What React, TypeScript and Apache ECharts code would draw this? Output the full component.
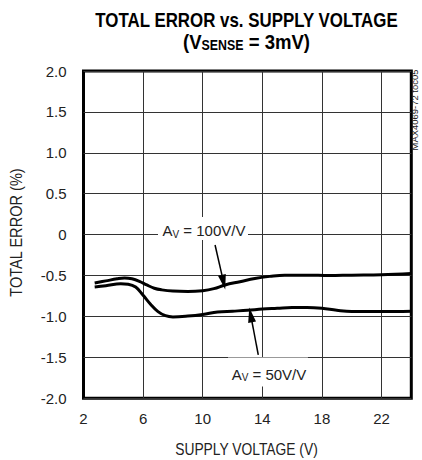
import React, { useEffect, useRef } from 'react';
import * as echarts from 'echarts';

// ---- data ----
const supplyV100 = [2.75, 3.5, 4.25, 4.75, 5.25, 5.75, 6.25, 6.75, 7.25, 8.0, 9.0, 10.0, 10.75, 11.5, 12.5, 13.5, 14.5, 15.5, 17.0, 18.5, 20.0, 22.0, 24.0];
const error100 = [-0.59, -0.565, -0.54, -0.53, -0.54, -0.57, -0.615, -0.655, -0.675, -0.69, -0.695, -0.685, -0.66, -0.615, -0.575, -0.535, -0.51, -0.495, -0.495, -0.5, -0.495, -0.49, -0.475];

const supplyV50 = [2.75, 3.5, 4.5, 5.0, 5.5, 6.0, 6.5, 7.0, 7.5, 8.0, 9.0, 10.0, 11.0, 12.0, 13.0, 14.0, 15.0, 16.0, 17.0, 18.0, 19.0, 20.0, 21.0, 22.0, 24.0];
const error50 = [-0.64, -0.625, -0.6, -0.605, -0.64, -0.74, -0.85, -0.94, -0.99, -1.005, -0.995, -0.975, -0.945, -0.935, -0.925, -0.91, -0.9, -0.89, -0.89, -0.9, -0.925, -0.94, -0.94, -0.94, -0.935];

const xTickValues = [2, 6, 10, 14, 18, 22];
const yTickValues = [-2, -1.5, -1, -0.5, 0, 0.5, 1, 1.5, 2];
const yTickLabels = ['-2.0', '-1.5', '-1.0', '-0.5', '0', '0.5', '1.0', '1.5', '2.0'];

const titleLine1 = 'TOTAL ERROR vs. SUPPLY VOLTAGE';
const titleLine2 = ['(V', 'SENSE', ' = 3mV)'];
const xAxisName = 'SUPPLY VOLTAGE (V)';
const yAxisName = 'TOTAL ERROR (%)';
const noteText = 'MAX4069-72 toc05';

// annotation anchors in data coordinates
const ann100 = { box: [10.02, 0.074], tail: [10.83, -0.127], tip: [11.4, -0.58] };
const ann50 = { box: [14.38, -1.68], tail: [13.73, -1.468], tip: [13.22, -0.98] };

const FONT = "'Liberation Sans', Arial, sans-serif";
const TXT = '#222';

function measure(text: string, font: string): number {
  const c = document.createElement('canvas');
  const ctx = c.getContext('2d');
  if (!ctx) return text.length * 10;
  ctx.font = font;
  return ctx.measureText(text).width;
}

export default function App() {
  const ref = useRef<HTMLDivElement>(null);
  useEffect(() => {
    if (!ref.current) return;
    const chart = echarts.init(ref.current, undefined, { renderer: 'svg' });

    const t1Font = `bold 21px 'Liberation Sans'`;
    const t1Scale = 303 / measure(titleLine1, t1Font);
    const t2Width =
      measure(titleLine2[0], t1Font) +
      measure(titleLine2[1], `bold 14px 'Liberation Sans'`) +
      measure(titleLine2[2], t1Font);
    const t2Scale = 127 / t2Width;
    const xnScale = 143 / measure(xAxisName, `16px 'Liberation Sans'`);
    const ynScale = 129 / measure(yAxisName, `16px 'Liberation Sans'`);
    const noteScale = 81 / measure(noteText, `9px 'Liberation Sans'`);

    const labelRich = {
      sub: { fontSize: 10, fontFamily: FONT, color: TXT, padding: [7, 0, 0, 0] },
    };
    const option: any = {
      animation: false,
      backgroundColor: '#fff',
      grid: {
        left: 83.5,
        right: 10.7,
        top: 71,
        bottom: 61.7,
        show: true,
        borderColor: '#000',
        borderWidth: 3,
        backgroundColor: 'transparent',
      },
      graphic: [
        {
          type: 'text',
          x: 246.5,
          y: 20,
          scaleX: t1Scale,
          z: 10,
          style: {
            text: titleLine1,
            align: 'center',
            verticalAlign: 'middle',
            fontFamily: FONT,
            fontWeight: 'bold',
            fontSize: 21,
            fill: '#000',
          },
        },
        {
          type: 'text',
          x: 246.5,
          y: 42,
          scaleX: t2Scale,
          z: 10,
          style: {
            text: `{m|${titleLine2[0]}}{s|${titleLine2[1]}}{m|${titleLine2[2]}}`,
            align: 'center',
            verticalAlign: 'middle',
            rich: {
              m: { fontFamily: FONT, fontWeight: 'bold', fontSize: 21, fill: '#000', color: '#000' },
              s: { fontFamily: FONT, fontWeight: 'bold', fontSize: 14, fill: '#000', color: '#000', padding: [6, 0, 0, 0] },
            },
          },
        },
        {
          type: 'text',
          x: 246.5,
          y: 449,
          scaleX: xnScale,
          style: {
            text: xAxisName,
            align: 'center',
            verticalAlign: 'middle',
            fontFamily: FONT,
            fontSize: 16,
            fill: TXT,
          },
        },
        {
          type: 'text',
          x: 16.5,
          y: 232.5,
          rotation: Math.PI / 2,
          scaleX: ynScale,
          style: {
            text: yAxisName,
            align: 'center',
            verticalAlign: 'middle',
            fontFamily: FONT,
            fontSize: 16,
            fill: TXT,
          },
        },
        {
          type: 'text',
          x: 415.5,
          y: 110,
          rotation: Math.PI / 2,
          scaleX: noteScale,
          z: 10,
          style: {
            text: noteText,
            align: 'center',
            verticalAlign: 'middle',
            fontFamily: FONT,
            fontSize: 9,
            fill: TXT,
          },
        },
      ],
      xAxis: {
        type: 'value',
        min: 2,
        max: 24,
        interval: 2,
        axisLine: { show: false },
        axisTick: { show: false },
        splitLine: { show: false },
        axisLabel: {
          margin: 13,
          fontFamily: FONT,
          fontSize: 15,
          color: TXT,
          showMaxLabel: false,
          formatter: (v: number) => (xTickValues.includes(v) ? String(v) : ''),
        },
      },
      yAxis: {
        type: 'value',
        min: -2,
        max: 2,
        interval: 0.5,
        axisLine: { show: false },
        axisTick: { show: false },
        splitLine: { show: true, lineStyle: { color: '#333', width: 1 } },
        axisLabel: {
          margin: 17,
          fontFamily: FONT,
          fontSize: 15,
          color: TXT,
          formatter: (v: number) => {
            const i = yTickValues.findIndex((t) => Math.abs(t - v) < 1e-9);
            return i >= 0 ? yTickLabels[i] : '';
          },
        },
      },
      series: [
        {
          name: 'AV = 100V/V',
          type: 'line',
          smooth: 0.4,
          symbol: 'none',
          lineStyle: { color: '#000', width: 3 },
          data: supplyV100.map((x, i) => [x, error100[i]]),
          z: 3,
          markLine: {
            silent: true,
            z: 1,
            symbol: 'none',
            label: { show: false },
            lineStyle: { color: '#333', width: 1, type: 'solid' },
            data: xTickValues.slice(1).map((v) => ({ xAxis: v })),
          },
        },
        {
          name: 'AV = 50V/V',
          type: 'line',
          smooth: 0.4,
          symbol: 'none',
          lineStyle: { color: '#000', width: 3 },
          data: supplyV50.map((x, i) => [x, error50[i]]),
          z: 3,
          markPoint: {
            silent: true,
            z: 5,
            data: [
              {
                coord: ann100.box,
                symbol: 'rect',
                symbolSize: [90, 23],
                itemStyle: { color: '#fff' },
                label: {
                  show: true,
                  position: 'inside',
                  offset: [1, 2],
                  fontFamily: FONT,
                  fontSize: 15,
                  color: TXT,
                  formatter: 'A{sub|V} = 100V/V',
                  rich: labelRich,
                },
              },
              {
                coord: ann50.box,
                symbol: 'rect',
                symbolSize: [80, 29],
                itemStyle: { color: '#fff' },
                label: {
                  show: true,
                  position: 'inside',
                  offset: [1, 2],
                  fontFamily: FONT,
                  fontSize: 15,
                  color: TXT,
                  formatter: 'A{sub|V} = 50V/V',
                  rich: labelRich,
                },
              },
            ],
          },
          markLine: {
            silent: true,
            z: 6,
            symbol: ['none', 'triangle'],
            symbolSize: [8, 15],
            label: { show: false },
            lineStyle: { color: '#000', width: 1.5, type: 'solid' },
            itemStyle: { color: '#000' },
            data: [
              [{ coord: ann100.tail }, { coord: ann100.tip }],
              [{ coord: ann50.tail }, { coord: ann50.tip }],
            ],
          },
        },
      ],
    };
    chart.setOption(option);
    return () => chart.dispose();
  }, []);
  return (
    <div
      ref={ref}
      style={{ position: 'fixed', left: 0, top: 0, width: 422, height: 460 }}
    />
  );
}
